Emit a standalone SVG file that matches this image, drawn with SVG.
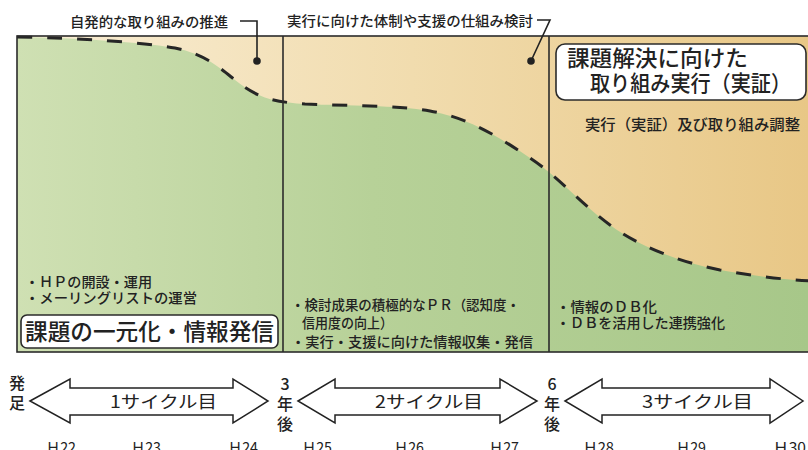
<svg xmlns="http://www.w3.org/2000/svg" width="808" height="450" viewBox="0 0 808 450">
<defs>
<linearGradient id="beige" x1="17" y1="0" x2="808" y2="0" gradientUnits="userSpaceOnUse">
<stop offset="0" stop-color="#f9eed6"/>
<stop offset="0.5" stop-color="#f1dcae"/>
<stop offset="1" stop-color="#e8c786"/>
</linearGradient>
<linearGradient id="green" x1="17" y1="0" x2="808" y2="0" gradientUnits="userSpaceOnUse">
<stop offset="0" stop-color="#cfe0b3"/>
<stop offset="0.45" stop-color="#b7d198"/>
<stop offset="1" stop-color="#a7c789"/>
</linearGradient>
<style>
text{font-family:"Noto Sans CJK JP","Noto Sans",sans-serif;fill:#222;}
.frame{fill:none;stroke:#2b2b2b;stroke-width:1.6;}
.div{stroke:#2b2b2b;stroke-width:1.6;}
.curve{fill:none;stroke:#262626;stroke-width:3;stroke-dasharray:15 15;}
.box{fill:#fff;stroke:#2b2b2b;stroke-width:1.6;}
.lead{fill:none;stroke:#222;stroke-width:1.6;}
.arrow{fill:#fff;stroke:#222;stroke-width:1.5;stroke-linejoin:miter;}
.sm{font-size:14px;font-weight:500;}
.cy{font-size:17px;}
.yr{font-size:15px;}
.vt{font-size:16px;font-weight:500;text-anchor:middle;}
</style>
</defs>

<g id="background">
<rect x="17" y="36" width="795" height="316" fill="url(#beige)"/>
<path d="M17,37 C80,38 140,42 175,48 C205,54 220,68 235,80 C255,96 270,102 305,104 C350,106 395,105 430,111 C470,118 500,138 530,158 C560,178 580,203 610,225 C640,247 680,262 720,270 C760,277 790,280 812,281 L812,352 L17,352 Z" fill="url(#green)"/>
<path class="curve" d="M17,37 C80,38 140,42 175,48 C205,54 220,68 235,80 C255,96 270,102 305,104 C350,106 395,105 430,111 C470,118 500,138 530,158 C560,178 580,203 610,225 C640,247 680,262 720,270 C760,277 790,280 812,281"/>
<rect class="frame" x="17" y="36" width="800" height="316"/>
<line class="div" x1="283" y1="36" x2="283" y2="352"/>
<line class="div" x1="549" y1="36" x2="549" y2="352"/>
</g>

<g id="callout-1">
<text class="sm" x="70" y="27" textLength="158" lengthAdjust="spacingAndGlyphs">自発的な取り組みの推進</text>
<polyline class="lead" points="240,21 257,21 257,61"/>
<circle cx="257" cy="61" r="3.8" fill="#222"/>
</g>

<g id="callout-2">
<text class="sm" x="287" y="26" textLength="246" lengthAdjust="spacingAndGlyphs">実行に向けた体制や支援の仕組み検討</text>
<polyline class="lead" points="537,20 550,20 531,61"/>
<circle cx="531" cy="61" r="3.8" fill="#222"/>
</g>

<g id="panel-1">
<text class="sm" x="25" y="287" textLength="127" lengthAdjust="spacingAndGlyphs">・ＨＰの開設・運用</text>
<text class="sm" x="25" y="303" textLength="172" lengthAdjust="spacingAndGlyphs">・メーリングリストの運営</text>
<rect class="box" x="21" y="315" width="257" height="33" rx="6"/>
<text x="25" y="340" font-size="23" font-weight="500" textLength="249" lengthAdjust="spacingAndGlyphs">課題の一元化・情報発信</text>
</g>

<g id="panel-2">
<text class="sm" x="291" y="310" textLength="229" lengthAdjust="spacingAndGlyphs">・検討成果の積極的なＰＲ（認知度・</text>
<text class="sm" x="302" y="328" textLength="91" lengthAdjust="spacingAndGlyphs">信用度の向上）</text>
<text class="sm" x="291" y="347" textLength="242" lengthAdjust="spacingAndGlyphs">・実行・支援に向けた情報収集・発信</text>
</g>

<g id="panel-3">
<rect class="box" x="556" y="44" width="250" height="56" rx="9"/>
<text x="567" y="66" font-size="22" font-weight="500" textLength="181" lengthAdjust="spacingAndGlyphs">課題解決に向けた</text>
<text x="590" y="91" font-size="22" font-weight="500" textLength="201" lengthAdjust="spacingAndGlyphs">取り組み実行（実証）</text>
<text x="585" y="130" font-size="15" font-weight="500" textLength="215" lengthAdjust="spacingAndGlyphs">実行（実証）及び取り組み調整</text>
<text class="sm" x="556" y="312" textLength="101" lengthAdjust="spacingAndGlyphs">・情報のＤＢ化</text>
<text class="sm" x="556" y="328" textLength="169" lengthAdjust="spacingAndGlyphs">・ＤＢを活用した連携強化</text>
</g>

<g id="milestone-start">
<text class="vt" x="17" y="389">発</text>
<text class="vt" x="17" y="409">足</text>
</g>
<g id="milestone-3y">
<text class="vt" x="285" y="390">3</text>
<text class="vt" x="285" y="410">年</text>
<text class="vt" x="285" y="430">後</text>
</g>
<g id="milestone-6y">
<text class="vt" x="552" y="390">6</text>
<text class="vt" x="552" y="410">年</text>
<text class="vt" x="552" y="430">後</text>
</g>

<g id="cycle-1">
<polygon class="arrow" points="30,401 70,379 70,388 233,388 233,379 268,401 233,423 233,415 70,415 70,423"/>
<text class="cy" x="110" y="408" textLength="107" lengthAdjust="spacingAndGlyphs">1サイクル目</text>
</g>
<g id="cycle-2">
<polygon class="arrow" points="298,401 335,379 335,388 500,388 500,379 537,401 500,423 500,415 335,415 335,423"/>
<text class="cy" x="375" y="408" textLength="108" lengthAdjust="spacingAndGlyphs">2サイクル目</text>
</g>
<g id="cycle-3">
<polygon class="arrow" points="565,401 602,379 602,388 770,388 770,379 803,401 770,423 770,415 602,415 602,423"/>
<text class="cy" x="642" y="408" textLength="111" lengthAdjust="spacingAndGlyphs">3サイクル目</text>
</g>

<g id="years">
<text class="yr" x="46" y="453" textLength="30" lengthAdjust="spacingAndGlyphs">Ｈ22</text>
<text class="yr" x="131" y="453" textLength="30" lengthAdjust="spacingAndGlyphs">Ｈ23</text>
<text class="yr" x="228" y="453" textLength="30" lengthAdjust="spacingAndGlyphs">Ｈ24</text>
<text class="yr" x="302" y="453" textLength="30" lengthAdjust="spacingAndGlyphs">Ｈ25</text>
<text class="yr" x="394" y="453" textLength="30" lengthAdjust="spacingAndGlyphs">Ｈ26</text>
<text class="yr" x="489" y="453" textLength="30" lengthAdjust="spacingAndGlyphs">Ｈ27</text>
<text class="yr" x="583" y="453" textLength="31" lengthAdjust="spacingAndGlyphs">Ｈ28</text>
<text class="yr" x="676" y="453" textLength="30" lengthAdjust="spacingAndGlyphs">Ｈ29</text>
<text class="yr" x="773" y="453" textLength="33" lengthAdjust="spacingAndGlyphs">Ｈ30</text>
</g>
</svg>
